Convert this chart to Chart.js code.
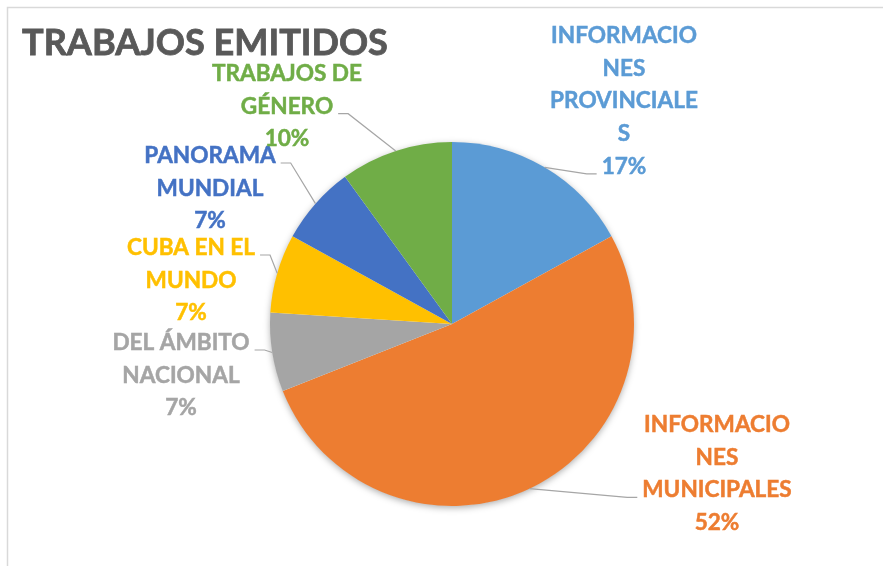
<!DOCTYPE html>
<html>
<head>
<meta charset="utf-8">
<script src="https://cdn.jsdelivr.net/npm/chart.js@4/dist/chart.umd.min.js"></script>
<style>
  body { margin: 0; background: #fff; }
  #wrap { width: 883px; height: 566px; }
</style>
</head>
<body>
<div id="wrap"><canvas id="myChart" width="883" height="566"></canvas></div>
<script>
// data
const title = 'TRABAJOS EMITIDOS';
const categories = [
    ['INFORMACIO', 'NES', 'PROVINCIALE', 'S'],
    ['INFORMACIO', 'NES', 'MUNICIPALES'],
    ['DEL ÁMBITO', 'NACIONAL'],
    ['CUBA EN EL', 'MUNDO'],
    ['PANORAMA', 'MUNDIAL'],
    ['TRABAJOS DE', 'GÉNERO']
];
const values = [17, 52, 7, 7, 7, 10];
const colors = ['#5B9BD5', '#ED7D31', '#A5A5A5', '#FFC000', '#4472C4', '#70AD47'];

// where each label block sits, offset from the pie centre (px), and which line the leader attaches to
const labelPos = [
    { dx: 172, dy: -289, attach: 4, side: 'left' },
    { dx: 265, dy: 100, attach: 2, side: 'left' },
    { dx: -271, dy: 18, attach: 0, side: 'right' },
    { dx: -261, dy: -77, attach: 0, side: 'right' },
    { dx: -242, dy: -169, attach: 0, side: 'right' },
    { dx: -165, dy: -251, attach: 1, side: 'right' }
];
const lineH = 32.7;
const fontFam = 'Lato, "Open Sans", sans-serif';

function fitFont(ctx, text, width, weight) {
    ctx.font = weight + ' 100px ' + fontFam;
    return 100 * width / ctx.measureText(text).width;
}

const shadow = {
    id: 'shadow',
    beforeDatasetsDraw(chart) {
        const arc = chart.getDatasetMeta(0).data[0];
        if (!arc) return;
        const ctx = chart.ctx;
        ctx.save();
        ctx.shadowColor = 'rgba(0,0,0,0.35)';
        ctx.shadowBlur = 7;
        ctx.shadowOffsetY = 2;
        ctx.fillStyle = '#fff';
        ctx.beginPath();
        ctx.arc(arc.x, arc.y, arc.outerRadius - 0.5, 0, Math.PI * 2);
        ctx.fill();
        ctx.restore();
    }
};

const decor = {
    id: 'decor',
    afterDraw(chart) {
        const ctx = chart.ctx;
        ctx.save();

        // frame
        ctx.strokeStyle = '#D9D9D9';
        ctx.lineWidth = 1.5;
        ctx.beginPath();
        ctx.moveTo(7.5, 566);
        ctx.lineTo(7.5, 7.5);
        ctx.lineTo(883, 7.5);
        ctx.stroke();

        // title
        const ts = fitFont(ctx, title, 366, 'bold');
        ctx.font = 'bold ' + ts + 'px ' + fontFam;
        ctx.fillStyle = '#595959';
        ctx.strokeStyle = '#595959';
        ctx.lineWidth = 0.8;
        ctx.textBaseline = 'alphabetic';
        ctx.textAlign = 'left';
        ctx.fillText(title, 22, 55);
        ctx.strokeText(title, 22, 55);

        // data labels with leader lines
        const meta = chart.getDatasetMeta(0);
        const total = values.reduce((a, b) => a + b, 0);
        const fs = fitFont(ctx, 'INFORMACIO', 146, 'bold');
        ctx.font = 'bold ' + fs + 'px ' + fontFam;
        ctx.textAlign = 'center';

        meta.data.forEach((arc, i) => {
            const p = labelPos[i];
            const lines = categories[i].concat([Math.round(values[i] / total * 100) + '%']);
            const lx = arc.x + p.dx;
            const ly = arc.y + p.dy;
            ctx.fillStyle = colors[i];
            ctx.strokeStyle = colors[i];
            ctx.lineWidth = 0.5;
            lines.forEach((t, k) => {
                ctx.fillText(t, lx, ly + k * lineH + 8);
                ctx.strokeText(t, lx, ly + k * lineH + 8);
            });

            const w = ctx.measureText(lines[p.attach]).width;
            const ay = ly + p.attach * lineH + 8;
            const mid = (arc.startAngle + arc.endAngle) / 2;
            const ex = arc.x + arc.outerRadius * Math.cos(mid);
            const ey = arc.y + arc.outerRadius * Math.sin(mid);
            let ax, bx;
            if (p.side === 'right') {
                ax = lx + w / 2 + 5;
                bx = ax + 10;
            } else {
                ax = lx - w / 2 - 5;
                bx = ax - 10;
            }
            ctx.strokeStyle = '#A6A6A6';
            ctx.lineWidth = 1.2;
            ctx.beginPath();
            ctx.moveTo(ax, ay);
            ctx.lineTo(bx, ay);
            ctx.lineTo(ex, ey);
            ctx.stroke();
        });
        ctx.restore();
    }
};

new Chart(document.getElementById('myChart').getContext('2d'), {
    type: 'pie',
    data: {
        labels: categories,
        datasets: [{
            data: values,
            backgroundColor: colors,
            borderWidth: 0
        }]
    },
    options: {
        responsive: false,
        animation: false,
        layout: {
            padding: { top: 142, bottom: 60, left: 270, right: 249 }
        },
        plugins: {
            legend: { display: false },
            tooltip: { enabled: false }
        }
    },
    plugins: [shadow, decor]
});
</script>
</body>
</html>
